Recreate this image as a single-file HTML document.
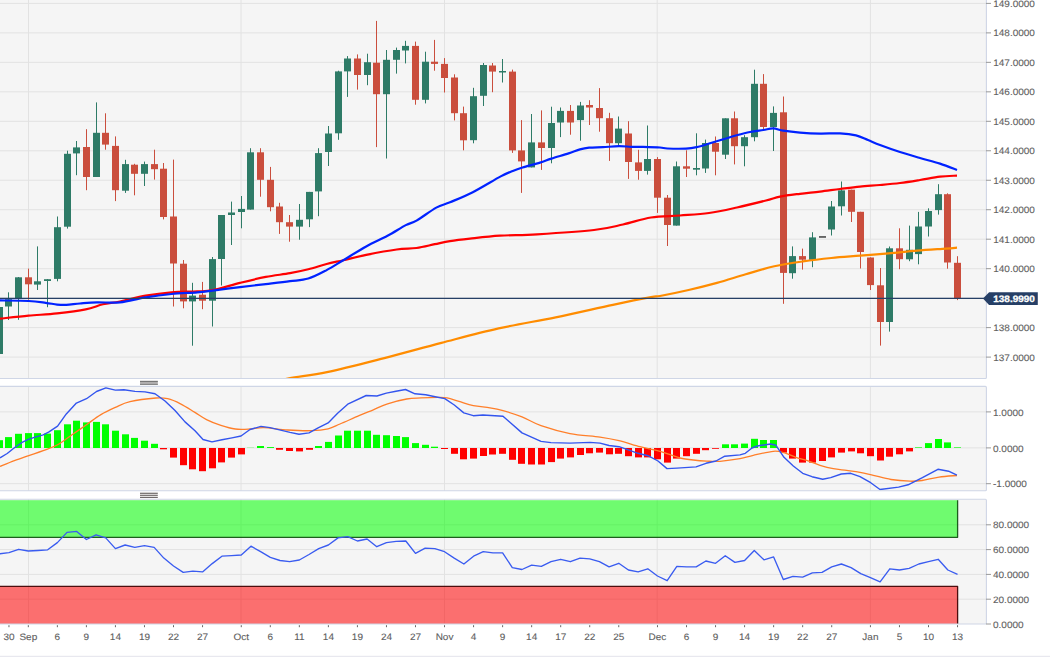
<!DOCTYPE html>
<html><head><meta charset="utf-8"><style>
html,body{margin:0;padding:0;background:#fff;width:1050px;height:659px;overflow:hidden}
svg text{text-rendering:geometricPrecision}
</style></head><body>
<svg width="1050" height="659" viewBox="0 0 1050 659" style="display:block">
<defs>
<clipPath id="cm"><rect x="0" y="0" width="986.0" height="378.5"/></clipPath>
<clipPath id="cd"><rect x="0" y="386.4" width="986.0" height="104.40000000000003"/></clipPath>
<clipPath id="cr"><rect x="0" y="499.2" width="986.0" height="124.80000000000001"/></clipPath>
</defs>
<rect x="0" y="0" width="1050" height="659" fill="#ffffff"/>
<rect x="0" y="0" width="986.0" height="378.5" fill="#f5f5f5"/>
<rect x="0" y="386.4" width="986.0" height="104.40000000000003" fill="#f5f5f5"/>
<rect x="0" y="499.2" width="986.0" height="124.80000000000001" fill="#f5f5f5"/>
<line x1="28.5" y1="0" x2="28.5" y2="378.5" stroke="#e2e2e2" stroke-width="1"/>
<line x1="241.0" y1="0" x2="241.0" y2="378.5" stroke="#e2e2e2" stroke-width="1"/>
<line x1="444.5" y1="0" x2="444.5" y2="378.5" stroke="#e2e2e2" stroke-width="1"/>
<line x1="657.2" y1="0" x2="657.2" y2="378.5" stroke="#e2e2e2" stroke-width="1"/>
<line x1="870.4" y1="0" x2="870.4" y2="378.5" stroke="#e2e2e2" stroke-width="1"/>
<line x1="28.5" y1="386.4" x2="28.5" y2="490.8" stroke="#e2e2e2" stroke-width="1"/>
<line x1="241.0" y1="386.4" x2="241.0" y2="490.8" stroke="#e2e2e2" stroke-width="1"/>
<line x1="444.5" y1="386.4" x2="444.5" y2="490.8" stroke="#e2e2e2" stroke-width="1"/>
<line x1="657.2" y1="386.4" x2="657.2" y2="490.8" stroke="#e2e2e2" stroke-width="1"/>
<line x1="870.4" y1="386.4" x2="870.4" y2="490.8" stroke="#e2e2e2" stroke-width="1"/>
<line x1="28.5" y1="499.2" x2="28.5" y2="624.0" stroke="#e2e2e2" stroke-width="1"/>
<line x1="241.0" y1="499.2" x2="241.0" y2="624.0" stroke="#e2e2e2" stroke-width="1"/>
<line x1="444.5" y1="499.2" x2="444.5" y2="624.0" stroke="#e2e2e2" stroke-width="1"/>
<line x1="657.2" y1="499.2" x2="657.2" y2="624.0" stroke="#e2e2e2" stroke-width="1"/>
<line x1="870.4" y1="499.2" x2="870.4" y2="624.0" stroke="#e2e2e2" stroke-width="1"/>
<line x1="0" y1="357.1" x2="986.0" y2="357.1" stroke="#e2e2e2" stroke-width="1"/>
<line x1="0" y1="327.62" x2="986.0" y2="327.62" stroke="#e2e2e2" stroke-width="1"/>
<line x1="0" y1="298.15" x2="986.0" y2="298.15" stroke="#e2e2e2" stroke-width="1"/>
<line x1="0" y1="268.68" x2="986.0" y2="268.68" stroke="#e2e2e2" stroke-width="1"/>
<line x1="0" y1="239.2" x2="986.0" y2="239.2" stroke="#e2e2e2" stroke-width="1"/>
<line x1="0" y1="209.73" x2="986.0" y2="209.73" stroke="#e2e2e2" stroke-width="1"/>
<line x1="0" y1="180.25" x2="986.0" y2="180.25" stroke="#e2e2e2" stroke-width="1"/>
<line x1="0" y1="150.78" x2="986.0" y2="150.78" stroke="#e2e2e2" stroke-width="1"/>
<line x1="0" y1="121.3" x2="986.0" y2="121.3" stroke="#e2e2e2" stroke-width="1"/>
<line x1="0" y1="91.83" x2="986.0" y2="91.83" stroke="#e2e2e2" stroke-width="1"/>
<line x1="0" y1="62.35" x2="986.0" y2="62.35" stroke="#e2e2e2" stroke-width="1"/>
<line x1="0" y1="32.88" x2="986.0" y2="32.88" stroke="#e2e2e2" stroke-width="1"/>
<line x1="0" y1="3.4" x2="986.0" y2="3.4" stroke="#e2e2e2" stroke-width="1"/>
<line x1="0" y1="411.9" x2="986.0" y2="411.9" stroke="#e2e2e2" stroke-width="1"/>
<line x1="0" y1="447.9" x2="986.0" y2="447.9" stroke="#e2e2e2" stroke-width="1"/>
<line x1="0" y1="483.7" x2="986.0" y2="483.7" stroke="#e2e2e2" stroke-width="1"/>
<line x1="0" y1="599.2" x2="986.0" y2="599.2" stroke="#e2e2e2" stroke-width="1"/>
<line x1="0" y1="574.4" x2="986.0" y2="574.4" stroke="#e2e2e2" stroke-width="1"/>
<line x1="0" y1="549.6" x2="986.0" y2="549.6" stroke="#e2e2e2" stroke-width="1"/>
<line x1="0" y1="524.8" x2="986.0" y2="524.8" stroke="#e2e2e2" stroke-width="1"/>
<g clip-path="url(#cm)">
<rect x="-1" y="305" width="1" height="51" fill="#2e7b67"/>
<rect x="-4" y="307" width="7" height="47" fill="#2e7b67"/>
<rect x="8" y="292.3" width="1" height="27.7" fill="#2e7b67"/>
<rect x="5" y="299.2" width="7" height="7.3" fill="#2e7b67"/>
<rect x="18" y="277" width="1" height="42.8" fill="#2e7b67"/>
<rect x="15" y="277.3" width="7" height="21" fill="#2e7b67"/>
<rect x="28" y="268.6" width="1" height="31.1" fill="#ca4e3d"/>
<rect x="25" y="277.3" width="7" height="7" fill="#ca4e3d"/>
<rect x="37" y="246.4" width="1" height="43.6" fill="#2e7b67"/>
<rect x="34" y="281.3" width="7" height="3.3" fill="#2e7b67"/>
<rect x="47" y="279" width="1" height="28.2" fill="#2e7b67"/>
<rect x="44" y="279.2" width="7" height="1.8" fill="#2e7b67"/>
<rect x="57" y="216.5" width="1" height="64.8" fill="#2e7b67"/>
<rect x="54" y="227.2" width="7" height="51.7" fill="#2e7b67"/>
<rect x="67" y="150.7" width="1" height="77.9" fill="#2e7b67"/>
<rect x="64" y="153.8" width="7" height="72.9" fill="#2e7b67"/>
<rect x="76" y="141" width="1" height="34.2" fill="#2e7b67"/>
<rect x="73" y="147.4" width="7" height="6" fill="#2e7b67"/>
<rect x="86" y="129.2" width="1" height="61" fill="#ca4e3d"/>
<rect x="83" y="147" width="7" height="30" fill="#ca4e3d"/>
<rect x="96" y="102.4" width="1" height="74.6" fill="#2e7b67"/>
<rect x="93" y="132.8" width="7" height="44.2" fill="#2e7b67"/>
<rect x="105" y="113.3" width="1" height="36.4" fill="#ca4e3d"/>
<rect x="102" y="132.8" width="7" height="11.8" fill="#ca4e3d"/>
<rect x="115" y="136.4" width="1" height="64.7" fill="#ca4e3d"/>
<rect x="112" y="145.9" width="7" height="44.3" fill="#ca4e3d"/>
<rect x="125" y="159.8" width="1" height="33.1" fill="#2e7b67"/>
<rect x="122" y="164.1" width="7" height="26.6" fill="#2e7b67"/>
<rect x="134" y="163.8" width="1" height="31.5" fill="#ca4e3d"/>
<rect x="131" y="164.7" width="7" height="9.1" fill="#ca4e3d"/>
<rect x="144" y="161.6" width="1" height="24.4" fill="#2e7b67"/>
<rect x="141" y="164.1" width="7" height="9.7" fill="#2e7b67"/>
<rect x="154" y="149.7" width="1" height="29.9" fill="#ca4e3d"/>
<rect x="151" y="164.1" width="7" height="5.1" fill="#ca4e3d"/>
<rect x="163" y="163" width="1" height="56.4" fill="#ca4e3d"/>
<rect x="160" y="168.7" width="7" height="48.3" fill="#ca4e3d"/>
<rect x="173" y="159.6" width="1" height="146.9" fill="#ca4e3d"/>
<rect x="170" y="216.5" width="7" height="47" fill="#ca4e3d"/>
<rect x="183" y="260" width="1" height="48.3" fill="#ca4e3d"/>
<rect x="180" y="263.7" width="7" height="37.7" fill="#ca4e3d"/>
<rect x="192" y="282.8" width="1" height="62.9" fill="#2e7b67"/>
<rect x="189" y="295.6" width="7" height="5.8" fill="#2e7b67"/>
<rect x="202" y="281.9" width="1" height="27.3" fill="#ca4e3d"/>
<rect x="199" y="294.7" width="7" height="6" fill="#ca4e3d"/>
<rect x="212" y="257" width="1" height="69.5" fill="#2e7b67"/>
<rect x="209" y="259.1" width="7" height="41.6" fill="#2e7b67"/>
<rect x="221" y="215" width="1" height="70.5" fill="#2e7b67"/>
<rect x="218" y="215" width="7" height="44" fill="#2e7b67"/>
<rect x="231" y="201.6" width="1" height="43.4" fill="#2e7b67"/>
<rect x="228" y="212.5" width="7" height="2.5" fill="#2e7b67"/>
<rect x="241" y="196" width="1" height="32.3" fill="#2e7b67"/>
<rect x="238" y="208.9" width="7" height="3.1" fill="#2e7b67"/>
<rect x="250" y="148.2" width="1" height="61.4" fill="#2e7b67"/>
<rect x="247" y="152.3" width="7" height="57.3" fill="#2e7b67"/>
<rect x="260" y="148.2" width="1" height="48.5" fill="#ca4e3d"/>
<rect x="257" y="152.3" width="7" height="27.5" fill="#ca4e3d"/>
<rect x="270" y="166.9" width="1" height="44.4" fill="#ca4e3d"/>
<rect x="267" y="179.8" width="7" height="27.4" fill="#ca4e3d"/>
<rect x="279" y="202.8" width="1" height="31.1" fill="#ca4e3d"/>
<rect x="276" y="206.5" width="7" height="15.7" fill="#ca4e3d"/>
<rect x="289" y="215" width="1" height="26.7" fill="#ca4e3d"/>
<rect x="286" y="222.2" width="7" height="4.4" fill="#ca4e3d"/>
<rect x="299" y="204" width="1" height="35.7" fill="#2e7b67"/>
<rect x="296" y="219.8" width="7" height="6.8" fill="#2e7b67"/>
<rect x="309" y="191.9" width="1" height="35.2" fill="#2e7b67"/>
<rect x="306" y="191.9" width="7" height="27.4" fill="#2e7b67"/>
<rect x="318" y="148.2" width="1" height="68" fill="#2e7b67"/>
<rect x="315" y="153.1" width="7" height="38.3" fill="#2e7b67"/>
<rect x="328" y="126" width="1" height="40" fill="#2e7b67"/>
<rect x="325" y="133.5" width="7" height="18.5" fill="#2e7b67"/>
<rect x="338" y="70.7" width="1" height="69.1" fill="#2e7b67"/>
<rect x="335" y="71.4" width="7" height="61.9" fill="#2e7b67"/>
<rect x="347" y="56.1" width="1" height="40.8" fill="#2e7b67"/>
<rect x="344" y="58.5" width="7" height="12.9" fill="#2e7b67"/>
<rect x="357" y="54.4" width="1" height="35.2" fill="#ca4e3d"/>
<rect x="354" y="58.5" width="7" height="16.5" fill="#ca4e3d"/>
<rect x="367" y="53.7" width="1" height="31.5" fill="#2e7b67"/>
<rect x="364" y="62.2" width="7" height="12.8" fill="#2e7b67"/>
<rect x="376" y="20.9" width="1" height="126.2" fill="#ca4e3d"/>
<rect x="373" y="62.7" width="7" height="31.5" fill="#ca4e3d"/>
<rect x="386" y="50" width="1" height="108.5" fill="#2e7b67"/>
<rect x="383" y="59.8" width="7" height="34.4" fill="#2e7b67"/>
<rect x="396" y="47.6" width="1" height="26" fill="#2e7b67"/>
<rect x="393" y="50" width="7" height="9.8" fill="#2e7b67"/>
<rect x="405" y="40.8" width="1" height="22.6" fill="#2e7b67"/>
<rect x="402" y="45.9" width="7" height="4.6" fill="#2e7b67"/>
<rect x="415" y="41.6" width="1" height="63.1" fill="#ca4e3d"/>
<rect x="412" y="45.9" width="7" height="53.9" fill="#ca4e3d"/>
<rect x="425" y="51.7" width="1" height="51.7" fill="#2e7b67"/>
<rect x="422" y="61.7" width="7" height="38.1" fill="#2e7b67"/>
<rect x="434" y="39.9" width="1" height="30.8" fill="#ca4e3d"/>
<rect x="431" y="61.7" width="7" height="2.2" fill="#ca4e3d"/>
<rect x="444" y="58.1" width="1" height="34.4" fill="#ca4e3d"/>
<rect x="441" y="63.9" width="7" height="14.1" fill="#ca4e3d"/>
<rect x="454" y="74.3" width="1" height="46.1" fill="#ca4e3d"/>
<rect x="451" y="77.5" width="7" height="35.7" fill="#ca4e3d"/>
<rect x="463" y="106.6" width="1" height="43.7" fill="#ca4e3d"/>
<rect x="460" y="113.2" width="7" height="27.1" fill="#ca4e3d"/>
<rect x="473" y="87.8" width="1" height="55.5" fill="#2e7b67"/>
<rect x="470" y="96.2" width="7" height="44" fill="#2e7b67"/>
<rect x="483" y="63" width="1" height="43" fill="#2e7b67"/>
<rect x="480" y="65" width="7" height="30.8" fill="#2e7b67"/>
<rect x="492" y="63" width="1" height="29.2" fill="#ca4e3d"/>
<rect x="489" y="65.5" width="7" height="6.1" fill="#ca4e3d"/>
<rect x="502" y="59" width="1" height="23.5" fill="#2e7b67"/>
<rect x="499" y="71" width="7" height="1.5" fill="#2e7b67"/>
<rect x="512" y="69.6" width="1" height="83.3" fill="#ca4e3d"/>
<rect x="509" y="71.6" width="7" height="78.8" fill="#ca4e3d"/>
<rect x="521" y="120.1" width="1" height="72.8" fill="#ca4e3d"/>
<rect x="518" y="150.4" width="7" height="11" fill="#ca4e3d"/>
<rect x="531" y="114" width="1" height="53.4" fill="#2e7b67"/>
<rect x="528" y="142.4" width="7" height="25" fill="#2e7b67"/>
<rect x="541" y="110.4" width="1" height="59.5" fill="#ca4e3d"/>
<rect x="538" y="142.4" width="7" height="5.6" fill="#ca4e3d"/>
<rect x="551" y="106.7" width="1" height="56.6" fill="#2e7b67"/>
<rect x="548" y="123" width="7" height="25" fill="#2e7b67"/>
<rect x="560" y="107.5" width="1" height="29.6" fill="#2e7b67"/>
<rect x="557" y="110.9" width="7" height="11.6" fill="#2e7b67"/>
<rect x="570" y="105" width="1" height="29.7" fill="#ca4e3d"/>
<rect x="567" y="110.9" width="7" height="11.6" fill="#ca4e3d"/>
<rect x="580" y="101.9" width="1" height="38.8" fill="#2e7b67"/>
<rect x="577" y="105.5" width="7" height="14.6" fill="#2e7b67"/>
<rect x="589" y="100.2" width="1" height="24.8" fill="#ca4e3d"/>
<rect x="586" y="105" width="7" height="2.5" fill="#ca4e3d"/>
<rect x="599" y="88.1" width="1" height="43.6" fill="#ca4e3d"/>
<rect x="596" y="108" width="7" height="10.2" fill="#ca4e3d"/>
<rect x="609" y="112.8" width="1" height="48.1" fill="#ca4e3d"/>
<rect x="606" y="118.2" width="7" height="25" fill="#ca4e3d"/>
<rect x="618" y="116.5" width="1" height="30.3" fill="#2e7b67"/>
<rect x="615" y="128.6" width="7" height="14.6" fill="#2e7b67"/>
<rect x="628" y="121.2" width="1" height="57.7" fill="#ca4e3d"/>
<rect x="625" y="133.5" width="7" height="28.5" fill="#ca4e3d"/>
<rect x="638" y="149.8" width="1" height="29.9" fill="#ca4e3d"/>
<rect x="635" y="162.4" width="7" height="8.5" fill="#ca4e3d"/>
<rect x="647" y="125.5" width="1" height="49.1" fill="#2e7b67"/>
<rect x="644" y="159" width="7" height="11.9" fill="#2e7b67"/>
<rect x="657" y="157.1" width="1" height="55.8" fill="#ca4e3d"/>
<rect x="654" y="159" width="7" height="38.7" fill="#ca4e3d"/>
<rect x="667" y="195" width="1" height="51" fill="#ca4e3d"/>
<rect x="664" y="197.7" width="7" height="27.3" fill="#ca4e3d"/>
<rect x="676" y="161.5" width="1" height="64.1" fill="#2e7b67"/>
<rect x="673" y="166.3" width="7" height="59.3" fill="#2e7b67"/>
<rect x="686" y="150.3" width="1" height="26.7" fill="#ca4e3d"/>
<rect x="683" y="166.3" width="7" height="2.4" fill="#ca4e3d"/>
<rect x="696" y="133.3" width="1" height="42" fill="#2e7b67"/>
<rect x="693" y="168" width="7" height="1.7" fill="#2e7b67"/>
<rect x="705" y="139.6" width="1" height="33.3" fill="#2e7b67"/>
<rect x="702" y="143" width="7" height="25.5" fill="#2e7b67"/>
<rect x="715" y="136.5" width="1" height="38.8" fill="#ca4e3d"/>
<rect x="712" y="143" width="7" height="8.7" fill="#ca4e3d"/>
<rect x="725" y="118.3" width="1" height="40.7" fill="#2e7b67"/>
<rect x="722" y="118.3" width="7" height="36.4" fill="#2e7b67"/>
<rect x="734" y="111.5" width="1" height="52.9" fill="#ca4e3d"/>
<rect x="731" y="118.3" width="7" height="27.9" fill="#ca4e3d"/>
<rect x="744" y="135.2" width="1" height="31.1" fill="#2e7b67"/>
<rect x="741" y="137.2" width="7" height="9" fill="#2e7b67"/>
<rect x="754" y="69.7" width="1" height="71.6" fill="#2e7b67"/>
<rect x="751" y="83.8" width="7" height="53.4" fill="#2e7b67"/>
<rect x="763" y="74.1" width="1" height="55.1" fill="#ca4e3d"/>
<rect x="760" y="83.8" width="7" height="43.2" fill="#ca4e3d"/>
<rect x="773" y="106.4" width="1" height="44.6" fill="#2e7b67"/>
<rect x="770" y="112.9" width="7" height="14.1" fill="#2e7b67"/>
<rect x="783" y="96.5" width="1" height="207.3" fill="#ca4e3d"/>
<rect x="780" y="112.3" width="7" height="160.6" fill="#ca4e3d"/>
<rect x="792" y="246.4" width="1" height="32.3" fill="#2e7b67"/>
<rect x="789" y="256.1" width="7" height="17.1" fill="#2e7b67"/>
<rect x="802" y="248.6" width="1" height="21" fill="#ca4e3d"/>
<rect x="799" y="256.1" width="7" height="3.6" fill="#ca4e3d"/>
<rect x="812" y="232.2" width="1" height="35" fill="#2e7b67"/>
<rect x="809" y="237.4" width="7" height="22.4" fill="#2e7b67"/>
<rect x="819" y="236.1" width="7" height="1.7" fill="#555"/>
<rect x="831" y="201" width="1" height="34.5" fill="#2e7b67"/>
<rect x="828" y="206.5" width="7" height="23" fill="#2e7b67"/>
<rect x="841" y="181.5" width="1" height="34" fill="#2e7b67"/>
<rect x="838" y="190.4" width="7" height="15.9" fill="#2e7b67"/>
<rect x="851" y="189.7" width="1" height="32.3" fill="#ca4e3d"/>
<rect x="848" y="189.7" width="7" height="22.1" fill="#ca4e3d"/>
<rect x="860" y="211.8" width="1" height="56.7" fill="#ca4e3d"/>
<rect x="857" y="211.8" width="7" height="40.2" fill="#ca4e3d"/>
<rect x="870" y="257.4" width="1" height="32.6" fill="#ca4e3d"/>
<rect x="867" y="257.5" width="7" height="27.6" fill="#ca4e3d"/>
<rect x="880" y="268" width="1" height="77.6" fill="#ca4e3d"/>
<rect x="877" y="285.3" width="7" height="36.7" fill="#ca4e3d"/>
<rect x="889" y="246.5" width="1" height="85.1" fill="#2e7b67"/>
<rect x="886" y="248.3" width="7" height="73.7" fill="#2e7b67"/>
<rect x="899" y="228.3" width="1" height="40.9" fill="#ca4e3d"/>
<rect x="896" y="248.3" width="7" height="10.9" fill="#ca4e3d"/>
<rect x="909" y="225.6" width="1" height="35.6" fill="#2e7b67"/>
<rect x="906" y="249.8" width="7" height="9.5" fill="#2e7b67"/>
<rect x="918" y="211.9" width="1" height="52.4" fill="#2e7b67"/>
<rect x="915" y="226.5" width="7" height="27.6" fill="#2e7b67"/>
<rect x="928" y="208.3" width="1" height="28.2" fill="#2e7b67"/>
<rect x="925" y="211" width="7" height="15.5" fill="#2e7b67"/>
<rect x="938" y="184.2" width="1" height="30.4" fill="#2e7b67"/>
<rect x="935" y="194.2" width="7" height="15.9" fill="#2e7b67"/>
<rect x="947" y="193.3" width="1" height="75.4" fill="#ca4e3d"/>
<rect x="944" y="194.2" width="7" height="68.3" fill="#ca4e3d"/>
<rect x="957" y="256.2" width="1" height="43.9" fill="#ca4e3d"/>
<rect x="954" y="262.8" width="7" height="35.5" fill="#ca4e3d"/>
<path d="M270,384 C273.17,383.05 279.5,380.27 289,378.3 C298.5,376.33 311.12,375.57 327,372.2 C342.88,368.83 365.23,362.98 384.3,358.1 C403.37,353.22 422.35,347.85 441.4,342.9 C460.45,337.95 479.55,332.67 498.6,328.4 C517.65,324.13 536.65,321.23 555.7,317.3 C574.75,313.37 597.02,308.17 612.9,304.8 C628.78,301.43 643.15,298.57 651,297.1 C658.85,295.63 653.73,297.18 660,296 C666.27,294.82 679.1,292.18 688.6,290 C698.1,287.82 707.48,285.52 717,282.9 C726.52,280.28 736.15,277.07 745.7,274.3 C755.25,271.53 764.77,268.45 774.3,266.3 C783.83,264.15 793.38,262.78 802.9,261.4 C812.42,260.02 821.88,258.95 831.4,258 C840.92,257.05 850.47,256.47 860,255.7 C869.53,254.93 879.1,254.25 888.6,253.4 C898.1,252.55 907.48,251.4 917,250.6 C926.52,249.8 939.03,249.08 945.7,248.6 C952.37,248.12 955.12,247.85 957,247.7" fill="none" stroke="#ff8c00" stroke-width="2.2"/>
<path d="M0,318.6 C4.77,318.12 19.08,316.57 28.6,315.7 C38.12,314.83 47.58,314.45 57.1,313.4 C66.62,312.35 78.07,310.92 85.7,309.4 C93.33,307.88 97.18,305.62 102.9,304.3 C108.62,302.98 112.87,302.93 120,301.5 C127.13,300.07 137.12,297.23 145.7,295.7 C154.28,294.17 162.92,293.02 171.5,292.3 C180.08,291.58 190.35,291.75 197.2,291.4 C204.05,291.05 205.47,291.62 212.6,290.2 C219.73,288.78 231.13,285.12 240,282.9 C248.87,280.68 257.47,278.52 265.8,276.9 C274.13,275.28 282.92,274.47 290,273.2 C297.08,271.93 302.2,270.83 308.3,269.3 C314.4,267.77 320.77,265.52 326.6,264 C332.43,262.48 336.7,261.72 343.3,260.2 C349.9,258.68 357.3,256.68 366.2,254.9 C375.1,253.12 388.32,250.65 396.7,249.5 C405.08,248.35 410.15,248.88 416.5,248 C422.85,247.12 429.22,245.35 434.8,244.2 C440.38,243.05 444.13,242.03 450,241.1 C455.87,240.17 461.67,239.5 470,238.6 C478.33,237.7 488.83,236.42 500,235.7 C511.17,234.98 521.33,235.25 537,234.3 C552.67,233.35 579.67,231.63 594,230 C608.33,228.37 613.5,226.58 623,224.5 C632.5,222.42 641.5,219 651,217.5 C660.5,216 670.33,216.25 680,215.5 C689.67,214.75 699.5,214.33 709,213 C718.5,211.67 727.5,209.58 737,207.5 C746.5,205.42 758.83,202.32 766,200.5 C773.17,198.68 774.33,197.72 780,196.6 C785.67,195.48 793.33,194.63 800,193.8 C806.67,192.97 813.33,192.4 820,191.6 C826.67,190.8 833.33,189.83 840,189 C846.67,188.17 853.33,187.27 860,186.6 C866.67,185.93 873.33,185.6 880,185 C886.67,184.4 893.33,183.83 900,183 C906.67,182.17 913.33,181.07 920,180 C926.67,178.93 933.83,177.33 940,176.6 C946.17,175.87 954.17,175.77 957,175.6" fill="none" stroke="#ff0000" stroke-width="2.2"/>
<path d="M0,300.4 C4.77,300.5 20.98,300.6 28.6,301 C36.22,301.4 40.95,302.2 45.7,302.8 C50.45,303.4 53.67,304.25 57.1,304.6 C60.53,304.95 62.48,305.08 66.3,304.9 C70.12,304.72 74.87,303.93 80,303.5 C85.13,303.07 90.43,302.48 97.1,302.3 C103.77,302.12 111.9,303.22 120,302.4 C128.1,301.58 137.12,298.8 145.7,297.4 C154.28,296 162.92,294.85 171.5,294 C180.08,293.15 190.35,292.87 197.2,292.3 C204.05,291.73 205.47,291.47 212.6,290.6 C219.73,289.73 231.13,288.18 240,287.1 C248.87,286.02 257.47,285.08 265.8,284.1 C274.13,283.12 282.92,282.13 290,281.2 C297.08,280.27 302.2,280.35 308.3,278.5 C314.4,276.65 320.77,273.15 326.6,270.1 C332.43,267.05 336.7,264.13 343.3,260.2 C349.9,256.27 358.83,250.57 366.2,246.5 C373.57,242.43 380.9,239.37 387.5,235.8 C394.1,232.23 400.97,227.63 405.8,225.1 C410.63,222.57 411.42,223.52 416.5,220.6 C421.58,217.68 430.72,210.65 436.3,207.6 C441.88,204.55 443.92,204.87 450,202.3 C456.08,199.73 464.35,196.52 472.8,192.2 C481.25,187.88 494.03,179.95 500.7,176.4 C507.37,172.85 509.17,172.38 512.8,170.9 C516.43,169.42 517.97,168.88 522.5,167.5 C527.03,166.12 535.18,164.08 540,162.6 C544.82,161.12 546.63,160.13 551.4,158.6 C556.17,157.07 563.83,154.93 568.6,153.4 C573.37,151.87 576.58,150.35 580,149.4 C583.42,148.45 585.28,148.08 589.1,147.7 C592.92,147.32 597.93,147.35 602.9,147.1 C607.87,146.85 614.15,146.25 618.9,146.2 C623.65,146.15 627.4,146.68 631.4,146.8 C635.4,146.92 638.13,146.78 642.9,146.9 C647.67,147.02 655.93,147.23 660,147.5 C664.07,147.77 662.97,148.32 667.3,148.5 C671.63,148.68 681.1,148.83 686,148.6 C690.9,148.37 692.7,147.98 696.7,147.1 C700.7,146.22 705.57,144.6 710,143.3 C714.43,142 718.85,140.63 723.3,139.3 C727.75,137.97 732.25,136.52 736.7,135.3 C741.15,134.08 745.57,132.88 750,132 C754.43,131.12 759.42,130.6 763.3,130 C767.18,129.4 769.97,128.28 773.3,128.4 C776.63,128.52 778.85,130 783.3,130.7 C787.75,131.4 793.88,132.12 800,132.6 C806.12,133.08 813.33,133.47 820,133.6 C826.67,133.73 834,133.1 840,133.4 C846,133.7 851.33,134.3 856,135.4 C860.67,136.5 864,138.4 868,140 C872,141.6 874.67,143 880,145 C885.33,147 893.33,149.83 900,152 C906.67,154.17 913.33,156.07 920,158 C926.67,159.93 933.83,161.6 940,163.6 C946.17,165.6 954.17,168.93 957,170" fill="none" stroke="#0022ff" stroke-width="2.2"/>
<line x1="0" y1="298.4" x2="984" y2="298.4" stroke="#263f66" stroke-width="1.2"/>
</g>
<g clip-path="url(#cd)">
<rect x="-4" y="440.2" width="7" height="7.8" fill="#00ff00"/>
<rect x="5" y="437.1" width="7" height="10.9" fill="#00ff00"/>
<rect x="15" y="433.8" width="7" height="14.2" fill="#00ff00"/>
<rect x="25" y="433.1" width="7" height="14.9" fill="#00ff00"/>
<rect x="34" y="433.1" width="7" height="14.9" fill="#00ff00"/>
<rect x="44" y="433.6" width="7" height="14.4" fill="#00ff00"/>
<rect x="54" y="430.2" width="7" height="17.8" fill="#00ff00"/>
<rect x="64" y="424.3" width="7" height="23.7" fill="#00ff00"/>
<rect x="73" y="420.7" width="7" height="27.3" fill="#00ff00"/>
<rect x="83" y="422.4" width="7" height="25.6" fill="#00ff00"/>
<rect x="93" y="421.9" width="7" height="26.1" fill="#00ff00"/>
<rect x="102" y="424.3" width="7" height="23.7" fill="#00ff00"/>
<rect x="112" y="430.7" width="7" height="17.3" fill="#00ff00"/>
<rect x="122" y="434.3" width="7" height="13.7" fill="#00ff00"/>
<rect x="131" y="437.9" width="7" height="10.1" fill="#00ff00"/>
<rect x="141" y="440.7" width="7" height="7.3" fill="#00ff00"/>
<rect x="151" y="443.8" width="7" height="4.2" fill="#00ff00"/>
<rect x="160" y="448.0" width="7" height="1.3" fill="#ff0000"/>
<rect x="170" y="448.0" width="7" height="9.6" fill="#ff0000"/>
<rect x="180" y="448.0" width="7" height="17.2" fill="#ff0000"/>
<rect x="189" y="448.0" width="7" height="21.3" fill="#ff0000"/>
<rect x="199" y="448.0" width="7" height="23.2" fill="#ff0000"/>
<rect x="209" y="448.0" width="7" height="20.3" fill="#ff0000"/>
<rect x="218" y="448.0" width="7" height="14.4" fill="#ff0000"/>
<rect x="228" y="448.0" width="7" height="9.6" fill="#ff0000"/>
<rect x="238" y="448.0" width="7" height="6.4" fill="#ff0000"/>
<rect x="247" y="447.8" width="7" height="0.2" fill="#00ff00"/>
<rect x="257" y="446" width="7" height="2" fill="#00ff00"/>
<rect x="267" y="447.1" width="7" height="0.9" fill="#00ff00"/>
<rect x="276" y="448.0" width="7" height="1.8" fill="#ff0000"/>
<rect x="286" y="448.0" width="7" height="3" fill="#ff0000"/>
<rect x="296" y="448.0" width="7" height="3.4" fill="#ff0000"/>
<rect x="306" y="448.0" width="7" height="1.8" fill="#ff0000"/>
<rect x="315" y="446" width="7" height="2" fill="#00ff00"/>
<rect x="325" y="441.9" width="7" height="6.1" fill="#00ff00"/>
<rect x="335" y="435.5" width="7" height="12.5" fill="#00ff00"/>
<rect x="344" y="430.7" width="7" height="17.3" fill="#00ff00"/>
<rect x="354" y="430.7" width="7" height="17.3" fill="#00ff00"/>
<rect x="364" y="430.7" width="7" height="17.3" fill="#00ff00"/>
<rect x="373" y="434.8" width="7" height="13.2" fill="#00ff00"/>
<rect x="383" y="435.2" width="7" height="12.8" fill="#00ff00"/>
<rect x="393" y="436" width="7" height="12" fill="#00ff00"/>
<rect x="402" y="437.1" width="7" height="10.9" fill="#00ff00"/>
<rect x="412" y="443.1" width="7" height="4.9" fill="#00ff00"/>
<rect x="422" y="444.8" width="7" height="3.2" fill="#00ff00"/>
<rect x="431" y="446.7" width="7" height="1.3" fill="#00ff00"/>
<rect x="441" y="448.0" width="7" height="1" fill="#ff0000"/>
<rect x="451" y="448.0" width="7" height="5.8" fill="#ff0000"/>
<rect x="460" y="448.0" width="7" height="11.3" fill="#ff0000"/>
<rect x="470" y="448.0" width="7" height="10.6" fill="#ff0000"/>
<rect x="480" y="448.0" width="7" height="8" fill="#ff0000"/>
<rect x="489" y="448.0" width="7" height="6.5" fill="#ff0000"/>
<rect x="499" y="448.0" width="7" height="5.8" fill="#ff0000"/>
<rect x="509" y="448.0" width="7" height="11.8" fill="#ff0000"/>
<rect x="518" y="448.0" width="7" height="15.8" fill="#ff0000"/>
<rect x="528" y="448.0" width="7" height="16.5" fill="#ff0000"/>
<rect x="538" y="448.0" width="7" height="16.5" fill="#ff0000"/>
<rect x="548" y="448.0" width="7" height="14.1" fill="#ff0000"/>
<rect x="557" y="448.0" width="7" height="10.6" fill="#ff0000"/>
<rect x="567" y="448.0" width="7" height="9.4" fill="#ff0000"/>
<rect x="577" y="448.0" width="7" height="7" fill="#ff0000"/>
<rect x="586" y="448.0" width="7" height="5.3" fill="#ff0000"/>
<rect x="596" y="448.0" width="7" height="4.6" fill="#ff0000"/>
<rect x="606" y="448.0" width="7" height="6.3" fill="#ff0000"/>
<rect x="615" y="448.0" width="7" height="5.8" fill="#ff0000"/>
<rect x="625" y="448.0" width="7" height="8.2" fill="#ff0000"/>
<rect x="635" y="448.0" width="7" height="9.4" fill="#ff0000"/>
<rect x="644" y="448.0" width="7" height="9.4" fill="#ff0000"/>
<rect x="654" y="448.0" width="7" height="11.3" fill="#ff0000"/>
<rect x="664" y="448.0" width="7" height="14.6" fill="#ff0000"/>
<rect x="673" y="448.0" width="7" height="10.6" fill="#ff0000"/>
<rect x="683" y="448.0" width="7" height="8.2" fill="#ff0000"/>
<rect x="693" y="448.0" width="7" height="5.8" fill="#ff0000"/>
<rect x="702" y="448.0" width="7" height="2.2" fill="#ff0000"/>
<rect x="712" y="448.0" width="7" height="0.8" fill="#ff0000"/>
<rect x="722" y="444.3" width="7" height="3.7" fill="#00ff00"/>
<rect x="731" y="444.3" width="7" height="3.7" fill="#00ff00"/>
<rect x="741" y="443.6" width="7" height="4.4" fill="#00ff00"/>
<rect x="751" y="438.8" width="7" height="9.2" fill="#00ff00"/>
<rect x="760" y="440" width="7" height="8" fill="#00ff00"/>
<rect x="770" y="440" width="7" height="8" fill="#00ff00"/>
<rect x="780" y="448.0" width="7" height="4.6" fill="#ff0000"/>
<rect x="789" y="448.0" width="7" height="10.6" fill="#ff0000"/>
<rect x="799" y="448.0" width="7" height="14.6" fill="#ff0000"/>
<rect x="809" y="448.0" width="7" height="14.6" fill="#ff0000"/>
<rect x="819" y="448.0" width="7" height="13" fill="#ff0000"/>
<rect x="828" y="448.0" width="7" height="9.4" fill="#ff0000"/>
<rect x="838" y="448.0" width="7" height="4.6" fill="#ff0000"/>
<rect x="848" y="448.0" width="7" height="3.4" fill="#ff0000"/>
<rect x="857" y="448.0" width="7" height="5.3" fill="#ff0000"/>
<rect x="867" y="448.0" width="7" height="8.2" fill="#ff0000"/>
<rect x="877" y="448.0" width="7" height="12.5" fill="#ff0000"/>
<rect x="886" y="448.0" width="7" height="8.7" fill="#ff0000"/>
<rect x="896" y="448.0" width="7" height="6.3" fill="#ff0000"/>
<rect x="906" y="448.0" width="7" height="3.4" fill="#ff0000"/>
<rect x="915" y="447.4" width="7" height="0.6" fill="#00ff00"/>
<rect x="925" y="443.1" width="7" height="4.9" fill="#00ff00"/>
<rect x="935" y="439" width="7" height="9" fill="#00ff00"/>
<rect x="944" y="442.4" width="7" height="5.6" fill="#00ff00"/>
<rect x="954" y="447.4" width="7" height="0.6" fill="#00ff00"/>
<path d="M0,466.5 C2.4,465.53 9.6,462.52 14.4,460.7 C19.2,458.88 24,457.28 28.8,455.6 C33.6,453.92 38.4,452.4 43.2,450.6 C48,448.8 52.8,447.43 57.6,444.8 C62.4,442.17 67.18,438.15 72,434.8 C76.82,431.45 81.68,428.07 86.5,424.7 C91.32,421.33 96.1,417.48 100.9,414.6 C105.7,411.72 110.45,409.57 115.3,407.4 C120.15,405.23 123.22,403.17 130,401.6 C136.78,400.03 149.73,398.48 156,398 C162.27,397.52 163.52,397.73 167.6,398.7 C171.68,399.67 175.95,401.52 180.5,403.8 C185.05,406.08 190.57,409.77 194.9,412.4 C199.23,415.03 202.17,417.43 206.5,419.6 C210.83,421.77 216.1,423.83 220.9,425.4 C225.7,426.97 230.45,428.4 235.3,429 C240.15,429.6 245.25,429.23 250,429 C254.75,428.77 257.53,427.43 263.8,427.6 C270.07,427.77 279.67,429.48 287.6,430 C295.53,430.52 304.65,430.9 311.4,430.7 C318.15,430.5 323.33,429.92 328.1,428.8 C332.87,427.68 334.85,426.18 340,424 C345.15,421.82 353.45,418.07 359,415.7 C364.55,413.33 368.53,411.78 373.3,409.8 C378.07,407.82 382.03,405.6 387.6,403.8 C393.17,402 401.13,399.98 406.7,399 C412.27,398.02 415.85,398.17 421,397.9 C426.15,397.63 433.25,397.4 437.6,397.4 C441.95,397.4 443.53,397.23 447.1,397.9 C450.67,398.57 454.63,400.1 459,401.4 C463.37,402.7 468.13,404.63 473.3,405.7 C478.47,406.77 485.05,406.98 490,407.8 C494.95,408.62 497.67,409.08 503,410.6 C508.33,412.12 515.67,414.38 522,416.9 C528.33,419.42 533,422.92 541,425.7 C549,428.48 560.17,431.7 570,433.6 C579.83,435.5 591.83,435.92 600,437.1 C608.17,438.28 612.33,439.1 619,440.7 C625.67,442.3 633.62,445.03 640,446.7 C646.38,448.37 652.18,449.33 657.3,450.7 C662.42,452.07 666.92,453.68 670.7,454.9 C674.48,456.12 676.23,457.15 680,458 C683.77,458.85 688.85,459.48 693.3,460 C697.75,460.52 702.25,460.88 706.7,461.1 C711.15,461.32 714.45,461.7 720,461.3 C725.55,460.9 734.45,459.7 740,458.7 C745.55,457.7 747.75,456.53 753.3,455.3 C758.85,454.07 768.18,451.73 773.3,451.3 C778.42,450.87 780.22,451.7 784,452.7 C787.78,453.7 791.78,455.87 796,457.3 C800.22,458.73 805.3,459.97 809.3,461.3 C813.3,462.63 816,464.07 820,465.3 C824,466.53 828.85,467.85 833.3,468.7 C837.75,469.55 842.25,469.8 846.7,470.4 C851.15,471 855.57,471.48 860,472.3 C864.43,473.12 868.13,474.1 873.3,475.3 C878.47,476.5 884.88,478.52 891,479.5 C897.12,480.48 904.83,481.03 910,481.2 C915.17,481.37 917.17,481.18 922,480.5 C926.83,479.82 933.17,477.93 939,477.1 C944.83,476.27 954,475.77 957,475.5" fill="none" stroke="#ff7f2a" stroke-width="1.3"/>
<polyline points="0,457.8 7.2,453.5 14.4,447.7 21.6,442.7 28.8,439.1 36,436.9 43.2,434.8 49,431.9 57.6,426.1 66.3,413.9 76.4,403.1 86.5,398.7 96.5,391.5 105.9,387.9 115.3,390.1 123.9,389.8 135,391.4 145,391.9 155,393.8 165,401 175,410.5 185,421.9 195,430.7 203,439.5 212,441.9 222,439.8 232,437.9 241,436 250,429.5 261,426.4 270,427.6 290,432.4 299,434.3 309,432.9 318.6,427.6 328.1,422.9 337.6,413.3 348.3,403.8 366.2,395.5 376.9,396 386.4,393.1 396,391.2 405.5,389.5 415,393.8 425.7,394.8 435.2,396.7 444.8,398.6 454.3,405 463.8,412.9 473.3,415.7 482.9,415 503,416.2 522,432.9 541,441.4 551,442.6 570,443.1 590,442.4 600,443.1 609,445.5 619,446.7 629,450.2 638,453.3 648,455.7 658,461 667,468.6 677,468.1 696,466.9 706,463.3 716,461 724.8,456.2 740,454.9 745.3,453.3 752,448 757.3,446 761.3,445.3 770.7,444 776,445.3 780,451.3 784,457.3 793.3,466 802.7,473.3 812,476.7 822.7,479.3 830.7,477.6 841.3,474 850.7,473.3 860,476.7 870.7,482.7 880,489.5 898.6,487.1 908.1,484.8 922.4,477.6 937.9,469.3 948.6,471.2 956.9,475.2" fill="none" stroke="#3355ee" stroke-width="1.4" stroke-linejoin="round"/>
</g>
<g clip-path="url(#cr)">
<rect x="-2" y="500.2" width="959.6" height="37.15" fill="#00ff00" fill-opacity="0.55"/>
<rect x="-2" y="586.45" width="959.6" height="38.55" fill="#ff0000" fill-opacity="0.55"/>
<path d="M-2,537.35 H957.6 V500.2" fill="none" stroke="#1d5e1d" stroke-width="1.3" stroke-linejoin="round"/>
<path d="M-2,586.45 H957.6 V626.0" fill="none" stroke="#4c0e0e" stroke-width="1.3" stroke-linejoin="round"/>
<polyline points="-0.72,553.8 8.96,552.6 18.64,549.3 28.32,551 38,550.5 47.68,549.8 57.36,542.6 67.04,532.4 76.72,531.4 86.4,539.5 96.07,534.8 105.75,537.9 115.43,548.6 125.11,545 134.79,547.4 144.47,545.7 154.15,547.4 163.83,558.1 173.51,566 183.19,572.4 192.87,571.2 202.55,571.9 212.23,563.6 221.91,556.2 231.59,555.7 241.27,555 250.94,546.2 260.62,551.7 270.3,557.4 279.98,560.5 289.66,561.7 299.34,560 309.02,554.5 318.7,548.6 328.38,545 338.06,537.9 347.74,536.7 357.42,541 367.1,539 376.78,546.7 386.46,542.6 396.14,541.4 405.82,541 415.49,553.3 425.17,548.1 434.85,548.6 444.53,551.7 454.21,558.1 463.89,564 473.57,556.2 483.25,551.7 492.93,552.9 502.61,552.9 512.29,567.6 521.97,569.5 531.65,565.2 541.33,566.4 551.01,561.7 560.69,559.3 570.37,561.7 580.04,558.1 589.72,558.8 599.4,561.7 609.08,566.9 618.76,563.3 628.44,570 638.12,571.9 647.8,568.8 657.48,576 667.16,580.7 676.84,566.4 686.52,566.9 696.2,566.9 705.88,561 715.56,563.3 725.24,555.7 734.91,562.4 744.59,560.5 754.27,550.5 763.95,559.8 773.63,556.9 783.31,579.5 792.99,576.4 802.67,577.1 812.35,572.9 822.03,572.4 831.71,566.9 841.39,564 851.07,567.6 860.75,573.6 870.43,577.6 880.11,581.9 889.79,568.8 899.46,570 909.14,568.3 918.82,564 928.5,561.7 938.18,559.3 947.86,570 957.54,574.3" fill="none" stroke="#3a5cf0" stroke-width="1.35" stroke-linejoin="round"/>
</g>
<rect x="-10" y="-10" width="996.4" height="388.5" rx="1" fill="none" stroke="#cfd6e6" stroke-width="1.1"/>
<rect x="-10" y="386.4" width="996.4" height="104.4" rx="1" fill="none" stroke="#cfd6e6" stroke-width="1.1"/>
<rect x="-10" y="499.2" width="996.4" height="124.8" rx="1" fill="none" stroke="#cfd6e6" stroke-width="1.1"/>
<rect x="140" y="380.8" width="17.8" height="4.2" fill="#b8b6b6"/>
<rect x="140" y="380.9" width="17.8" height="1.2" fill="#777"/>
<rect x="140" y="383.8" width="17.8" height="1.2" fill="#888"/>
<rect x="140" y="492.7" width="17.8" height="1.2" fill="#6f6b6b"/>
<rect x="140" y="494.7" width="17.8" height="1.2" fill="#6f6b6b"/>
<rect x="140" y="496.79999999999995" width="17.8" height="1.2" fill="#6f6b6b"/>
<g font-family="Liberation Sans, sans-serif" font-size="10" fill="#5f5f5f" stroke="#5f5f5f" stroke-width="0.12">
<line x1="986.0" y1="357.1" x2="991" y2="357.1" stroke="#999" stroke-width="1"/>
<text transform="translate(993.2,360.7) scale(1,0.93)" >137.0000</text>
<line x1="986.0" y1="327.62" x2="991" y2="327.62" stroke="#999" stroke-width="1"/>
<text transform="translate(993.2,331.23) scale(1,0.93)" >138.0000</text>
<line x1="986.0" y1="298.15" x2="991" y2="298.15" stroke="#999" stroke-width="1"/>
<line x1="986.0" y1="268.68" x2="991" y2="268.68" stroke="#999" stroke-width="1"/>
<text transform="translate(993.2,272.28) scale(1,0.93)" >140.0000</text>
<line x1="986.0" y1="239.2" x2="991" y2="239.2" stroke="#999" stroke-width="1"/>
<text transform="translate(993.2,242.8) scale(1,0.93)" >141.0000</text>
<line x1="986.0" y1="209.73" x2="991" y2="209.73" stroke="#999" stroke-width="1"/>
<text transform="translate(993.2,213.33) scale(1,0.93)" >142.0000</text>
<line x1="986.0" y1="180.25" x2="991" y2="180.25" stroke="#999" stroke-width="1"/>
<text transform="translate(993.2,183.85) scale(1,0.93)" >143.0000</text>
<line x1="986.0" y1="150.78" x2="991" y2="150.78" stroke="#999" stroke-width="1"/>
<text transform="translate(993.2,154.38) scale(1,0.93)" >144.0000</text>
<line x1="986.0" y1="121.3" x2="991" y2="121.3" stroke="#999" stroke-width="1"/>
<text transform="translate(993.2,124.9) scale(1,0.93)" >145.0000</text>
<line x1="986.0" y1="91.83" x2="991" y2="91.83" stroke="#999" stroke-width="1"/>
<text transform="translate(993.2,95.43) scale(1,0.93)" >146.0000</text>
<line x1="986.0" y1="62.35" x2="991" y2="62.35" stroke="#999" stroke-width="1"/>
<text transform="translate(993.2,65.95) scale(1,0.93)" >147.0000</text>
<line x1="986.0" y1="32.88" x2="991" y2="32.88" stroke="#999" stroke-width="1"/>
<text transform="translate(993.2,36.48) scale(1,0.93)" >148.0000</text>
<line x1="986.0" y1="3.4" x2="991" y2="3.4" stroke="#999" stroke-width="1"/>
<text transform="translate(993.2,7) scale(1,0.93)" >149.0000</text>
<line x1="986.0" y1="411.9" x2="991" y2="411.9" stroke="#999" stroke-width="1"/>
<text transform="translate(993,415.5) scale(1,0.93)" >1.0000</text>
<line x1="986.0" y1="447.9" x2="991" y2="447.9" stroke="#999" stroke-width="1"/>
<text transform="translate(993,451.5) scale(1,0.93)" >0.0000</text>
<line x1="986.0" y1="483.7" x2="991" y2="483.7" stroke="#999" stroke-width="1"/>
<text transform="translate(993,487.3) scale(1,0.93)" >-1.0000</text>
<line x1="986.0" y1="624" x2="991" y2="624" stroke="#999" stroke-width="1"/>
<text transform="translate(993,627.6) scale(1,0.93)" >0.0000</text>
<line x1="986.0" y1="599.2" x2="991" y2="599.2" stroke="#999" stroke-width="1"/>
<text transform="translate(993,602.8) scale(1,0.93)" >20.0000</text>
<line x1="986.0" y1="574.4" x2="991" y2="574.4" stroke="#999" stroke-width="1"/>
<text transform="translate(993,578) scale(1,0.93)" >40.0000</text>
<line x1="986.0" y1="549.6" x2="991" y2="549.6" stroke="#999" stroke-width="1"/>
<text transform="translate(993,553.2) scale(1,0.93)" >60.0000</text>
<line x1="986.0" y1="524.8" x2="991" y2="524.8" stroke="#999" stroke-width="1"/>
<text transform="translate(993,528.4) scale(1,0.93)" >80.0000</text>
</g>
<polygon points="983,298.4 989.1,292.2 1037.8,292.2 1037.8,304.9 989.1,304.9" fill="#263f66"/>
<text transform="translate(993.2,302) scale(1,0.93)" font-family="Liberation Sans, sans-serif" font-size="10" font-weight="bold" fill="#ffffff" stroke="#ffffff" stroke-width="0.3">138.9990</text>
<g font-family="Liberation Sans, sans-serif" font-size="10" fill="#5f5f5f" stroke="#5f5f5f" stroke-width="0.12" text-anchor="middle">
<line x1="8.96" y1="625.2" x2="8.96" y2="627.2" stroke="#666" stroke-width="1"/>
<text transform="translate(8.96,639.9) scale(1,0.93)" >30</text>
<line x1="28.32" y1="625.2" x2="28.32" y2="627.2" stroke="#666" stroke-width="1"/>
<text transform="translate(28.32,639.9) scale(1,0.93)" >Sep</text>
<line x1="57.36" y1="625.2" x2="57.36" y2="627.2" stroke="#666" stroke-width="1"/>
<text transform="translate(57.36,639.9) scale(1,0.93)" >6</text>
<line x1="86.4" y1="625.2" x2="86.4" y2="627.2" stroke="#666" stroke-width="1"/>
<text transform="translate(86.4,639.9) scale(1,0.93)" >9</text>
<line x1="115.43" y1="625.2" x2="115.43" y2="627.2" stroke="#666" stroke-width="1"/>
<text transform="translate(115.43,639.9) scale(1,0.93)" >14</text>
<line x1="144.47" y1="625.2" x2="144.47" y2="627.2" stroke="#666" stroke-width="1"/>
<text transform="translate(144.47,639.9) scale(1,0.93)" >19</text>
<line x1="173.51" y1="625.2" x2="173.51" y2="627.2" stroke="#666" stroke-width="1"/>
<text transform="translate(173.51,639.9) scale(1,0.93)" >22</text>
<line x1="202.55" y1="625.2" x2="202.55" y2="627.2" stroke="#666" stroke-width="1"/>
<text transform="translate(202.55,639.9) scale(1,0.93)" >27</text>
<line x1="241.27" y1="625.2" x2="241.27" y2="627.2" stroke="#666" stroke-width="1"/>
<text transform="translate(241.27,639.9) scale(1,0.93)" >Oct</text>
<line x1="270.3" y1="625.2" x2="270.3" y2="627.2" stroke="#666" stroke-width="1"/>
<text transform="translate(270.3,639.9) scale(1,0.93)" >6</text>
<line x1="299.34" y1="625.2" x2="299.34" y2="627.2" stroke="#666" stroke-width="1"/>
<text transform="translate(299.34,639.9) scale(1,0.93)" >11</text>
<line x1="328.38" y1="625.2" x2="328.38" y2="627.2" stroke="#666" stroke-width="1"/>
<text transform="translate(328.38,639.9) scale(1,0.93)" >14</text>
<line x1="357.42" y1="625.2" x2="357.42" y2="627.2" stroke="#666" stroke-width="1"/>
<text transform="translate(357.42,639.9) scale(1,0.93)" >19</text>
<line x1="386.46" y1="625.2" x2="386.46" y2="627.2" stroke="#666" stroke-width="1"/>
<text transform="translate(386.46,639.9) scale(1,0.93)" >24</text>
<line x1="415.49" y1="625.2" x2="415.49" y2="627.2" stroke="#666" stroke-width="1"/>
<text transform="translate(415.49,639.9) scale(1,0.93)" >27</text>
<line x1="444.53" y1="625.2" x2="444.53" y2="627.2" stroke="#666" stroke-width="1"/>
<text transform="translate(444.53,639.9) scale(1,0.93)" >Nov</text>
<line x1="473.57" y1="625.2" x2="473.57" y2="627.2" stroke="#666" stroke-width="1"/>
<text transform="translate(473.57,639.9) scale(1,0.93)" >4</text>
<line x1="502.61" y1="625.2" x2="502.61" y2="627.2" stroke="#666" stroke-width="1"/>
<text transform="translate(502.61,639.9) scale(1,0.93)" >9</text>
<line x1="531.65" y1="625.2" x2="531.65" y2="627.2" stroke="#666" stroke-width="1"/>
<text transform="translate(531.65,639.9) scale(1,0.93)" >14</text>
<line x1="560.69" y1="625.2" x2="560.69" y2="627.2" stroke="#666" stroke-width="1"/>
<text transform="translate(560.69,639.9) scale(1,0.93)" >17</text>
<line x1="589.72" y1="625.2" x2="589.72" y2="627.2" stroke="#666" stroke-width="1"/>
<text transform="translate(589.72,639.9) scale(1,0.93)" >22</text>
<line x1="618.76" y1="625.2" x2="618.76" y2="627.2" stroke="#666" stroke-width="1"/>
<text transform="translate(618.76,639.9) scale(1,0.93)" >25</text>
<line x1="657.48" y1="625.2" x2="657.48" y2="627.2" stroke="#666" stroke-width="1"/>
<text transform="translate(657.48,639.9) scale(1,0.93)" >Dec</text>
<line x1="686.52" y1="625.2" x2="686.52" y2="627.2" stroke="#666" stroke-width="1"/>
<text transform="translate(686.52,639.9) scale(1,0.93)" >6</text>
<line x1="715.56" y1="625.2" x2="715.56" y2="627.2" stroke="#666" stroke-width="1"/>
<text transform="translate(715.56,639.9) scale(1,0.93)" >9</text>
<line x1="744.59" y1="625.2" x2="744.59" y2="627.2" stroke="#666" stroke-width="1"/>
<text transform="translate(744.59,639.9) scale(1,0.93)" >14</text>
<line x1="773.63" y1="625.2" x2="773.63" y2="627.2" stroke="#666" stroke-width="1"/>
<text transform="translate(773.63,639.9) scale(1,0.93)" >19</text>
<line x1="802.67" y1="625.2" x2="802.67" y2="627.2" stroke="#666" stroke-width="1"/>
<text transform="translate(802.67,639.9) scale(1,0.93)" >22</text>
<line x1="831.71" y1="625.2" x2="831.71" y2="627.2" stroke="#666" stroke-width="1"/>
<text transform="translate(831.71,639.9) scale(1,0.93)" >27</text>
<line x1="870.43" y1="625.2" x2="870.43" y2="627.2" stroke="#666" stroke-width="1"/>
<text transform="translate(870.43,639.9) scale(1,0.93)" >Jan</text>
<line x1="899.46" y1="625.2" x2="899.46" y2="627.2" stroke="#666" stroke-width="1"/>
<text transform="translate(899.46,639.9) scale(1,0.93)" >5</text>
<line x1="928.5" y1="625.2" x2="928.5" y2="627.2" stroke="#666" stroke-width="1"/>
<text transform="translate(928.5,639.9) scale(1,0.93)" >10</text>
<line x1="957.54" y1="625.2" x2="957.54" y2="627.2" stroke="#666" stroke-width="1"/>
<text transform="translate(957.54,639.9) scale(1,0.93)" >13</text>
</g>
<line x1="0" y1="656.3" x2="1050" y2="656.3" stroke="#e3e3ec" stroke-width="1"/>
</svg>
</body></html>
